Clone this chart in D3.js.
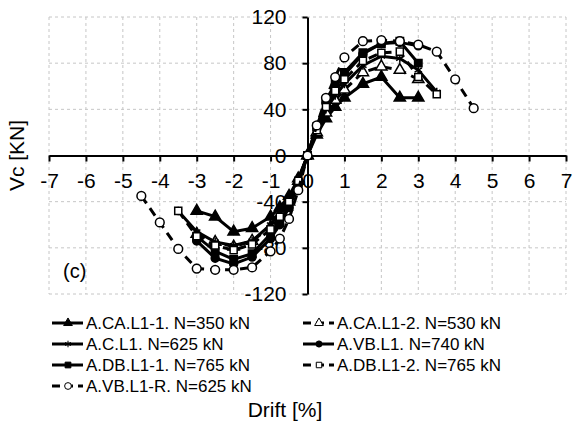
<!DOCTYPE html>
<html lang="en">
<head>
    <meta charset="UTF-8">
    <title>Vc - Drift</title>
    <script src="https://cdn.jsdelivr.net/npm/d3@7"></script>
    <style>
        body{
            margin:0px;
            background:white;
        }
        text{ font-family:"Liberation Sans", Arial, sans-serif; }
    </style>
</head>
<body>
    <svg id="chart"></svg>
</body>
<script>
    const w = 574, h = 430;

    // axes
    const xTicks = [-7,-6,-5,-4,-3,-2,-1,0,1,2,3,4,5,6,7];
    const yTicks = [-120,-80,-40,0,40,80,120];

    // series (drift in %, Vc in kN)
    const caL11Drift = [-3,-2.5,-2,-1.5,-1,-0.75,-0.5,-0.25,0,0.25,0.5,0.75,1,1.5,2,2.5,3];
    const caL11V     = [-48,-53,-66,-63,-53,-45,-35,-20,0,18,32,42,50,62,68,50,50];

    const caL12Drift = [-3,-2.5,-2,-1.5,-1,-0.75,-0.5,-0.25,0,0.25,0.5,0.75,1,1.5,2,2.5,3];
    const caL12V     = [-68,-75,-79,-74,-62,-52,-40,-22,0,20,37,48,57,72,77,74,66];

    const cL1Drift = [-3.5,-3,-2.5,-2,-1.5,-1,-0.75,-0.5,-0.25,0,0.25,0.5,0.75,1,1.5,2,2.5,3,3.5];
    const cL1V     = [-48,-66,-75,-78,-74,-60,-50,-38,-21,0,22,40,52,62,78,86,84,74,55];

    const vbL1Drift = [-3,-2.5,-2,-1.5,-1,-0.75,-0.5,-0.25,0,0.25,0.5,0.75,1,1.5,2,2.5,3];
    const vbL1V     = [-74,-89,-94,-88,-72,-60,-45,-25,0,25,46,60,70,88,97,98,95];

    const dbL11Drift = [-3,-2.5,-2,-1.5,-1,-0.75,-0.5,-0.25,0,0.25,0.5,0.75,1,1.5,2,2.5,3];
    const dbL11V     = [-70,-83,-90,-85,-68,-57,-44,-24,0,25,48,62,72,89,97,99,80];

    const dbL12Drift = [-3.5,-3,-2.5,-2,-1.5,-1,-0.75,-0.5,-0.25,0,0.25,0.5,0.75,1,1.5,2,2.5,3,3.5];
    const dbL12V     = [-48,-70,-78,-82,-77,-64,-53,-40,-22,0,22,42,56,66,82,89,90,68,53];

    const vbL1RDrift = [-4.5,-4,-3.5,-3,-2.5,-2,-1.5,-1,-0.75,-0.5,-0.25,0,0.25,0.5,0.75,1,1.5,2,2.5,3,3.5,4,4.5];
    const vbL1RV     = [-35,-58,-81,-98,-99,-99,-97,-83,-72,-55,-30,0,26,50,68,85,99,100,99,96,90,66,41];

    const labels = ["A.CA.L1-1. N=350 kN","A.CA.L1-2. N=530 kN","A.C.L1. N=625 kN","A.VB.L1. N=740 kN",
                    "A.DB.L1-1. N=765 kN","A.DB.L1-2. N=765 kN","A.VB.L1-R. N=625 kN"];

    const series = [
        {name:labels[0], dx:caL11Drift, v:caL11V, dash:null,  sym:d3.symbolTriangle, fill:"black", size:55},
        {name:labels[1], dx:caL12Drift, v:caL12V, dash:"9,6", sym:d3.symbolTriangle, fill:"white", size:55},
        {name:labels[2], dx:cL1Drift,   v:cL1V,   dash:null,  sym:d3.symbolAsterisk, fill:"none",  size:50},
        {name:labels[3], dx:vbL1Drift,  v:vbL1V,  dash:null,  sym:d3.symbolCircle,   fill:"black", size:50},
        {name:labels[4], dx:dbL11Drift, v:dbL11V, dash:null,  sym:d3.symbolSquare,   fill:"black", size:55},
        {name:labels[5], dx:dbL12Drift, v:dbL12V, dash:"9,6", sym:d3.symbolSquare,   fill:"white", size:50},
        {name:labels[6], dx:vbL1RDrift, v:vbL1RV, dash:"9,6", sym:d3.symbolCircle,   fill:"white", size:60}
    ];

    const svg = d3.select('#chart').attr('width',w).attr('height',h);
    svg.append('rect').attr('width',w).attr('height',h).attr('fill','white');

    const x = d3.scaleLinear().domain([-7,7]).range([49,566]);
    const y = d3.scaleLinear().domain([-120,120]).range([294,17]);

    // grille en pointillés
    const grid = svg.append('g');
    grid.selectAll('line.v').data(xTicks).join('line')
        .attr('x1',d=>x(d)).attr('x2',d=>x(d)).attr('y1',y(120)).attr('y2',y(-120))
        .attr('stroke','#c6c6c6').attr('stroke-dasharray','3,3');
    grid.selectAll('line.h').data(yTicks).join('line')
        .attr('x1',x(-7)).attr('x2',x(7)).attr('y1',d=>y(d)).attr('y2',d=>y(d))
        .attr('stroke','#c6c6c6').attr('stroke-dasharray','3,3');

    // axes (tirets simples comme dans Excel)
    const fmt = d => String(d);
    const gx = svg.append('g').attr('transform','translate(0,'+y(0)+')')
        .call(d3.axisBottom(x).tickValues(xTicks).tickFormat(fmt).tickSize(6).tickPadding(12).tickSizeOuter(0));
    const gy = svg.append('g').attr('transform','translate('+x(0)+',0)')
        .call(d3.axisLeft(y).tickValues(yTicks).tickFormat(fmt).tickSize(5).tickPadding(16).tickSizeOuter(0));
    [gx,gy].forEach(g=>{
        g.select('.domain').attr('stroke','black').attr('stroke-width',2);
        g.selectAll('.tick line').attr('stroke','black').attr('stroke-width',2);
        g.selectAll('.tick text').attr('font-size','21px').attr('fill','black')
            .attr('font-family','"Liberation Sans", Arial, sans-serif');
    });

    // courbes
    const line = d3.line().x(d=>x(d[0])).y(d=>y(d[1]));
    const curves = svg.append('g');
    series.forEach(s=>{
        const pts = s.dx.map((d,i)=>[d,s.v[i]]);
        curves.append('path').datum(pts).attr('d',line)
            .attr('fill','none').attr('stroke','black').attr('stroke-width',3)
            .attr('stroke-dasharray',s.dash);
        curves.selectAll(null).data(pts).join('path')
            .attr('transform',d=>'translate('+x(d[0])+','+y(d[1])+')')
            .attr('d',d3.symbol().type(s.sym).size(s.size))
            .attr('fill',s.fill).attr('stroke','black').attr('stroke-width',1.5);
    });

    // légende
    const leg = svg.append('g');
    series.forEach((s,i)=>{
        const col = i%2, row = Math.floor(i/2);
        const lx = col===0 ? 52 : 303, ly = 323 + row*21;
        leg.append('line').attr('x1',lx).attr('x2',lx+31).attr('y1',ly).attr('y2',ly)
            .attr('stroke','black').attr('stroke-width',3).attr('stroke-dasharray',s.dash ? '8,5' : null);
        leg.append('path').attr('transform','translate('+(lx+16)+','+ly+')')
            .attr('d',d3.symbol().type(s.sym).size(s.size*0.6))
            .attr('fill',s.fill).attr('stroke','black').attr('stroke-width',1);
        leg.append('text').attr('x',lx+34).attr('y',ly).attr('dy','0.35em')
            .attr('font-size','17px').attr('fill','black').text(s.name);
    });

    // titres
    svg.append('text').attr('transform','translate(24,'+y(0)+') rotate(-90)')
        .attr('text-anchor','middle').attr('font-size','21px').text('Vc [KN]');
    svg.append('text').attr('x',285).attr('y',417)
        .attr('text-anchor','middle').attr('font-size','21px').text('Drift [%]');
    svg.append('text').attr('x',63).attr('y',278).attr('font-size','20px').text('(c)');
</script>
</html>
